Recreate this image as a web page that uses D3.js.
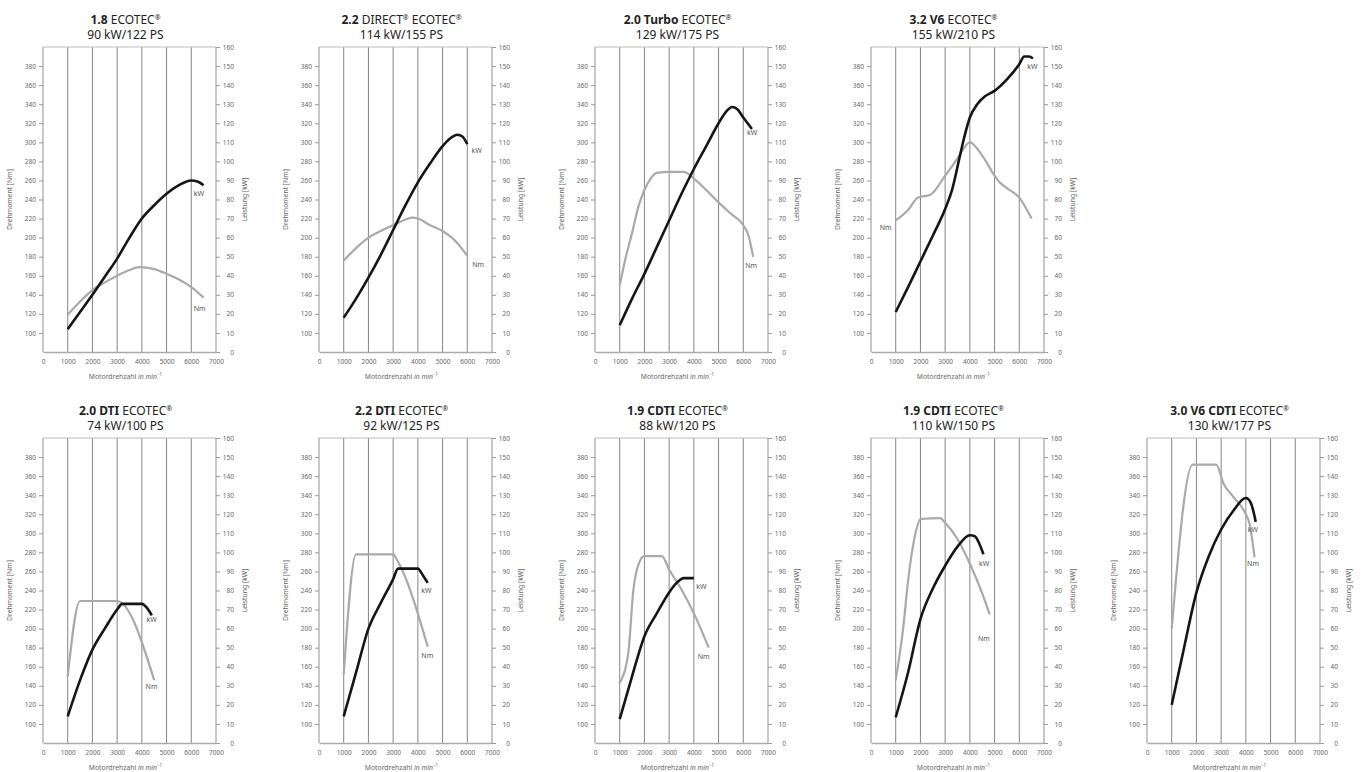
<!DOCTYPE html>
<meta charset="utf-8" />
<script src="https://d3js.org/d3.v7.min.js"></script>
<body style="margin:0;background:#fff">
<svg id="chart" width="1369" height="772"></svg>
<script>
/* DATA -------------------------------------------------------------------- */
const titleBold = ["1.8","2.2","2.0 Turbo","3.2 V6","2.0 DTI","2.2 DTI","1.9 CDTI","1.9 CDTI","3.0 V6 CDTI"];
const titleRest = [" ECOTEC®"," DIRECT® ECOTEC®"," ECOTEC®"," ECOTEC®"," ECOTEC®"," ECOTEC®"," ECOTEC®"," ECOTEC®"," ECOTEC®"];
const power = ["90 kW/122 PS","114 kW/155 PS","129 kW/175 PS","155 kW/210 PS",
               "74 kW/100 PS","92 kW/125 PS","88 kW/120 PS","110 kW/150 PS","130 kW/177 PS"];

// [rpm, kW]
const kw = [
  [[1000,12],[1500,21],[2000,30],[2500,39.5],[3000,49],[3500,60],[4000,70],[4500,77],[5000,83],[5500,87.5],[6000,90],[6250,89.5],[6500,87.5]],
  [[1000,18],[1500,28],[2000,39],[2500,51],[3000,64],[3500,77],[4000,89],[4500,99],[5000,108],[5300,112],[5600,114],[5800,113],[6000,109]],
  [[1000,14],[1500,28],[2000,41],[2500,55],[3000,69],[3500,83],[4000,96],[4500,108],[5000,120],[5300,126],[5550,128.5],[5750,127.5],[6000,123],[6350,117]],
  [[1000,21],[1500,34],[2000,47.5],[2500,61],[3000,75],[3300,86],[3600,103],[3800,114],[4000,123],[4300,130],[4600,134],[5000,137],[5500,143],[6000,151],[6200,155],[6400,155],[6550,154]],
  [[1000,14],[1500,33],[2000,49],[2500,60],[3000,70],[3200,73],[4000,73],[4200,71],[4400,67]],
  [[1000,14],[1500,37],[2000,60],[2500,73.5],[3000,86],[3200,91.5],[4000,91.5],[4200,88],[4400,84]],
  [[1000,12.5],[1500,35],[2000,56],[2500,68],[3000,79],[3300,84],[3600,86.5],[4000,86.5]],
  [[1000,13.5],[1500,37],[2000,65],[2500,81],[3000,93],[3500,103],[4000,109],[4200,108.5],[4400,104],[4550,99]],
  [[1000,20],[1500,50],[2000,79],[2500,98],[3000,112],[3500,122],[4000,128.5],[4200,126],[4400,116]]
];

// [rpm, Nm]
const nm = [
  [[1000,119],[1500,133],[2000,145],[2500,153],[3000,160],[3500,166],[3900,169],[4500,167],[5000,162],[5500,156],[6000,148],[6500,137]],
  [[1000,176],[1500,189],[2000,200],[2500,207],[3000,213],[3500,219],[3800,221],[4000,220],[4500,213],[5000,207],[5500,197],[6000,181]],
  [[1000,150],[1250,180],[1500,205],[1750,232],[2000,250],[2250,262],[2500,268],[3000,269],[3600,269],[4000,262],[4500,250],[5000,237],[5500,225],[6000,213],[6200,203],[6400,180]],
  [[1000,218],[1500,229],[1900,242],[2400,245],[3000,265],[3500,283],[4000,300],[4500,286],[5000,265],[5200,258],[5500,252],[6000,242],[6500,220]],
  [[1000,150],[1500,229],[3000,229],[4500,146]],
  [[1000,152],[1500,278],[3000,278],[3200,270],[4400,181]],
  [[1000,143],[1350,175],[1550,240],[1800,270],[2000,276],[2700,276],[3000,262],[3500,241],[4000,216],[4600,180]],
  [[1000,146],[1300,200],[1500,250],[1800,300],[2000,315],[2800,316],[3000,311],[3500,294],[4000,268],[4500,237],[4800,215]],
  [[1000,200],[1850,372],[2800,372],[3100,352],[3500,338],[4000,320],[4150,310],[4350,275]]
];

// label anchors [rpm, value]
const kwLabel = [[6100,83],[6170,105.5],[6150,115],[6320,150],[4190,65],[4140,80],[4100,82],[4370,94],[4080,112]];
const nmLabel = [[6100,126],[6200,172],[6080,171],[350,211],[4150,139],[4140,172],[4160,171],[4330,190],[4050,268]];

const rpmTicks = [0,1000,2000,3000,4000,5000,6000,7000];
const nmTicks = d3.range(100,381,20);
const kwTicks = d3.range(0,161,10);

/* LAYOUT ------------------------------------------------------------------ */
const W = 173, H = 305;
const slots = [[43,47],[319,47],[595,47],[871,47],[43,438],[319,438],[595,438],[871,438],[1147,438]];
const font = "'Noto Sans', 'Open Sans', sans-serif";

const x = d3.scaleLinear().domain([0,7000]).range([0,W]);
const yKw = d3.scaleLinear().domain([0,160]).range([H,0]);
const yNm = d3.scaleLinear().domain([80,400]).range([H,0]);

const svg = d3.select("#chart");

slots.forEach(([px,py],i)=>{
  const g = svg.append("g").attr("transform",`translate(${px},${py})`)
    .style("font-family",font);

  // title: bold model + regular rest, ® raised
  const t1 = g.append("text").attr("x",W/2-4).attr("y",-23)
    .attr("text-anchor","middle").attr("font-size","12px").attr("fill","#222");
  t1.append("tspan").attr("font-weight","700").text(titleBold[i]);
  let lift = 0;
  titleRest[i].split(/(®)/).filter(s=>s).forEach(part=>{
    if(part==="®"){
      t1.append("tspan").attr("font-size","7px").attr("dy",-4).text("®"); lift = 4;
    } else {
      t1.append("tspan").attr("dy",lift).text(part); lift = 0;
    }
  });
  g.append("text").attr("x",W/2-4).attr("y",-8)
    .attr("text-anchor","middle").attr("font-size","12px").attr("fill","#222")
    .text(power[i]);

  // grid
  g.selectAll("line.grid").data(rpmTicks.slice(1,-1)).join("line")
    .attr("x1",d=>x(d)).attr("x2",d=>x(d)).attr("y1",0).attr("y2",H)
    .attr("stroke","#777").attr("stroke-width",0.9);
  g.append("line").attr("x1",0).attr("x2",W).attr("y1",0).attr("y2",0)
    .attr("stroke","#bbb").attr("stroke-width",1);

  // axes
  const left = g.append("g").call(d3.axisLeft(yNm).tickValues(nmTicks).tickSize(4).tickPadding(3));
  const right = g.append("g").attr("transform",`translate(${W},0)`)
    .call(d3.axisRight(yKw).tickValues(kwTicks).tickSize(4).tickPadding(3));
  const bottom = g.append("g").attr("transform",`translate(0,${H})`)
    .call(d3.axisBottom(x).tickValues(rpmTicks).tickFormat(d3.format("d")).tickSize(0).tickPadding(7));
  [left,right,bottom].forEach(a=>{
    a.select(".domain").attr("stroke","#aaa").attr("stroke-width",1.3);
    a.selectAll(".tick line").attr("stroke","#999");
    a.selectAll("text").attr("fill","#666").style("font-family",font).attr("font-size","6.5px");
  });
  right.selectAll("text").attr("text-anchor","end").attr("x",18);
  left.select(".domain").attr("d",`M0,${H}V0`);
  right.select(".domain").attr("d",`M0,${H}V0`);

  // axis titles
  g.append("text").attr("transform",`translate(-31,${H/2}) rotate(-90)`)
    .attr("text-anchor","middle").attr("font-size","6.8px").attr("fill","#666").text("Drehmoment [Nm]");
  g.append("text").attr("transform",`translate(${W+31},${H/2}) rotate(-90)`)
    .attr("text-anchor","middle").attr("font-size","6.8px").attr("fill","#666").text("Leistung [kW]");
  const xt = g.append("text").attr("x",W/2-4).attr("y",H+27)
    .attr("text-anchor","middle").attr("font-size","6.8px").attr("fill","#666");
  xt.append("tspan").text("Motordrehzahl ");
  xt.append("tspan").attr("font-style","italic").text("in min");
  xt.append("tspan").attr("font-size","4.5px").attr("dy","-3").text("−1");

  // curves
  const nmLine = d3.line().x(d=>x(d[0])).y(d=>yNm(d[1])).curve(d3.curveMonotoneX);
  const kwLine = d3.line().x(d=>x(d[0])).y(d=>yKw(d[1])).curve(d3.curveMonotoneX);
  g.append("path").attr("d",nmLine(nm[i])).attr("fill","none")
    .attr("stroke","#a9a9a9").attr("stroke-width",2.2).attr("stroke-linejoin","round");
  g.append("path").attr("d",kwLine(kw[i])).attr("fill","none")
    .attr("stroke","#151515").attr("stroke-width",2.6).attr("stroke-linejoin","round");

  g.append("text").attr("x",x(kwLabel[i][0])).attr("y",yKw(kwLabel[i][1])+2.5)
    .attr("font-size","7px").attr("fill","#555").text("kW");
  g.append("text").attr("x",x(nmLabel[i][0])).attr("y",yNm(nmLabel[i][1])+2.5)
    .attr("font-size","7px").attr("fill","#555").text("Nm");
});
</script>
</body>
